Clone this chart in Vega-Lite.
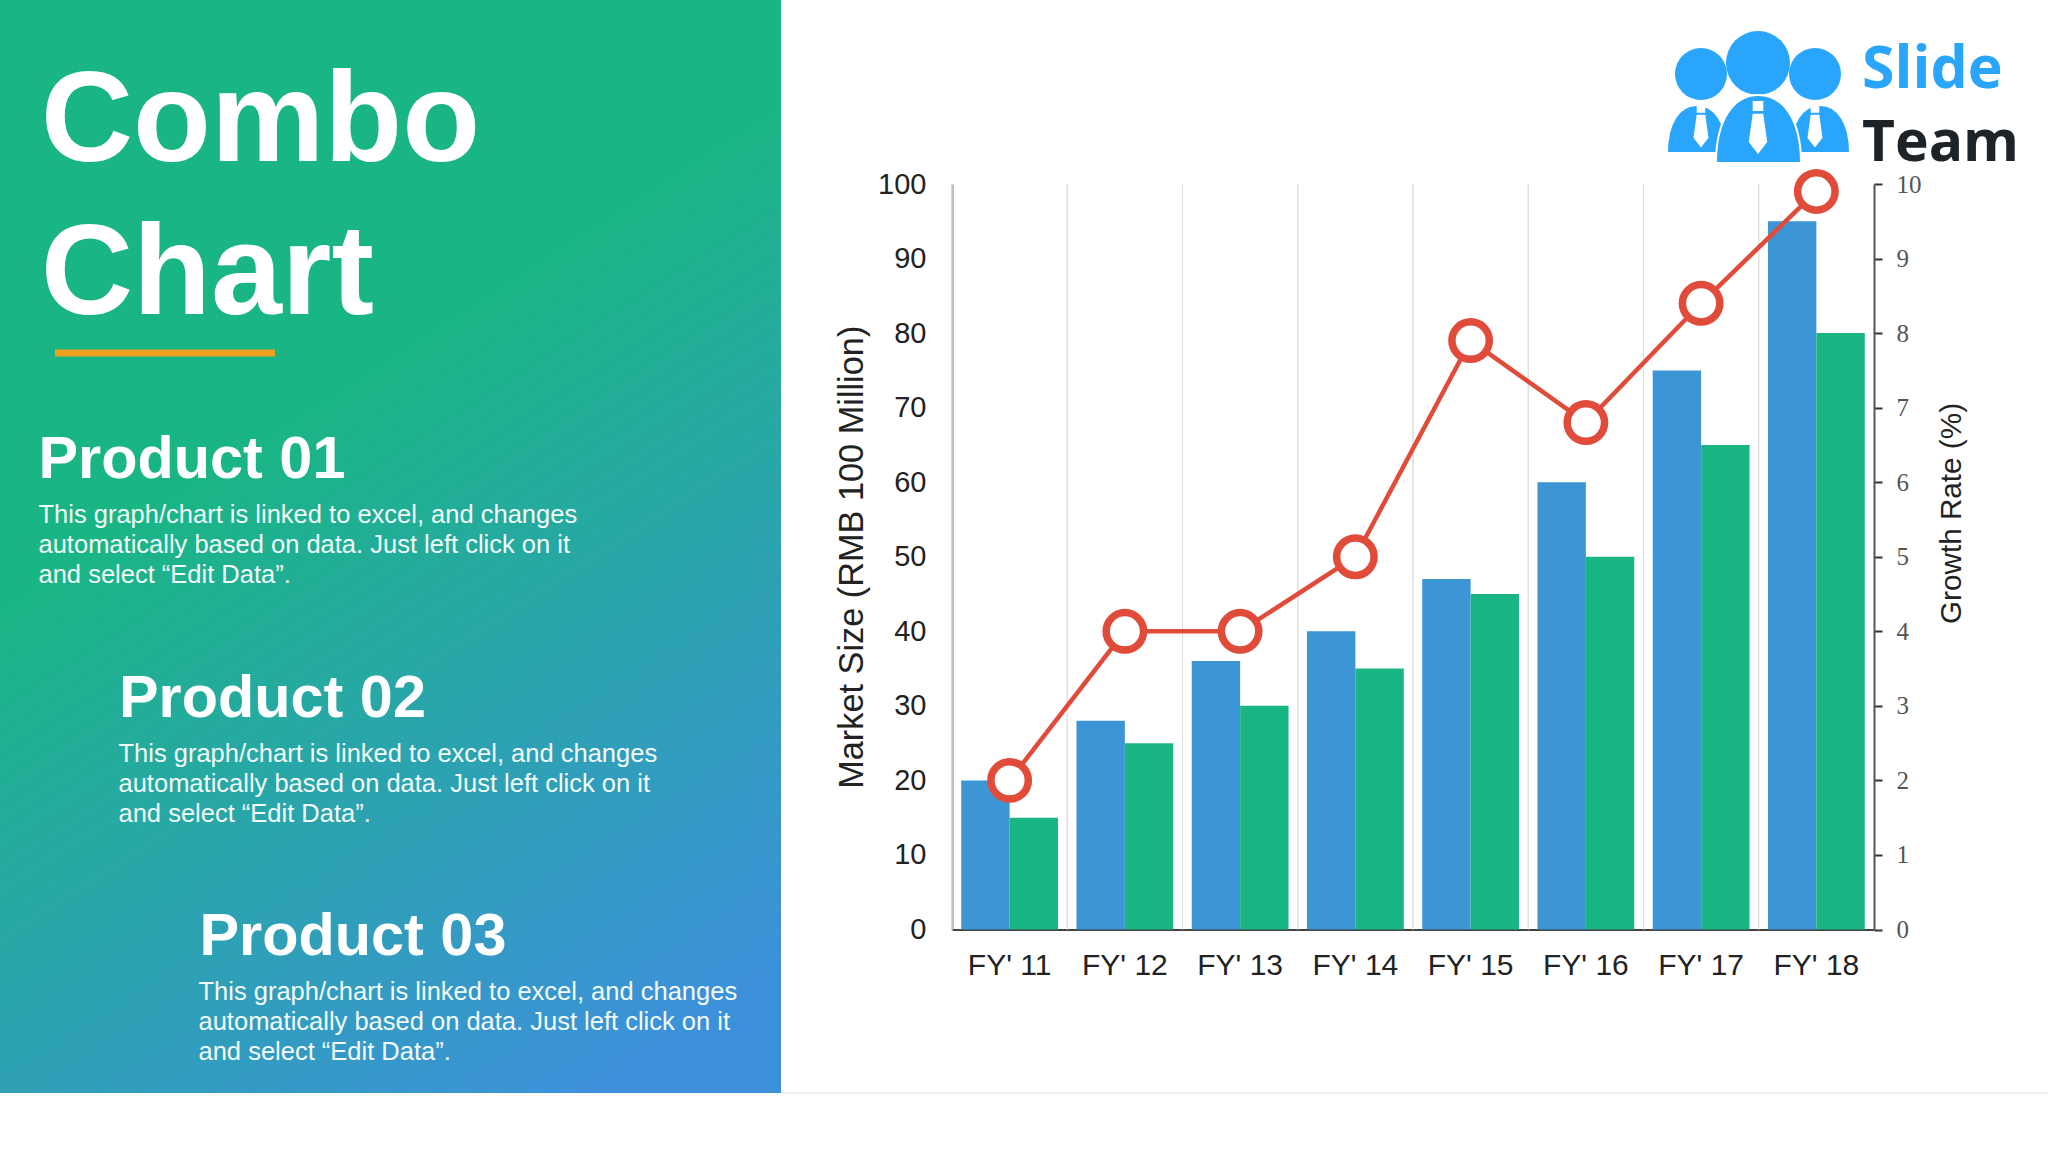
{
  "$schema": "https://vega.github.io/schema/vega-lite/v6.json",
  "description": "Combo chart slide: market size bars with growth rate line",
  "width": 2048,
  "height": 1152,
  "padding": 0,
  "autosize": {"type": "none"},
  "background": "#ffffff",
  "config": {"view": {"stroke": null}, "font": "Liberation Sans"},
  "datasets": {
    "market": [
      {"year": "FY' 11", "series": "Series 1", "size": 20},
      {"year": "FY' 11", "series": "Series 2", "size": 15},
      {"year": "FY' 12", "series": "Series 1", "size": 28},
      {"year": "FY' 12", "series": "Series 2", "size": 25},
      {"year": "FY' 13", "series": "Series 1", "size": 36},
      {"year": "FY' 13", "series": "Series 2", "size": 30},
      {"year": "FY' 14", "series": "Series 1", "size": 40},
      {"year": "FY' 14", "series": "Series 2", "size": 35},
      {"year": "FY' 15", "series": "Series 1", "size": 47},
      {"year": "FY' 15", "series": "Series 2", "size": 45},
      {"year": "FY' 16", "series": "Series 1", "size": 60},
      {"year": "FY' 16", "series": "Series 2", "size": 50},
      {"year": "FY' 17", "series": "Series 1", "size": 75},
      {"year": "FY' 17", "series": "Series 2", "size": 65},
      {"year": "FY' 18", "series": "Series 1", "size": 95},
      {"year": "FY' 18", "series": "Series 2", "size": 80}
    ],
    "growth": [
      {"year": "FY' 11", "rate": 2},
      {"year": "FY' 12", "rate": 4},
      {"year": "FY' 13", "rate": 4},
      {"year": "FY' 14", "rate": 5},
      {"year": "FY' 15", "rate": 7.9},
      {"year": "FY' 16", "rate": 6.8},
      {"year": "FY' 17", "rate": 8.4},
      {"year": "FY' 18", "rate": 9.9}
    ],
    "slide": [{"name": "slide"}],
    "titleWords": [{"word": "Combo"}, {"word": "Chart"}],
    "products": [
      {"block": "Product 01", "body": "This graph/chart is linked to excel, and changes\nautomatically based on data. Just left click on it\nand select “Edit Data”."},
      {"block": "Product 02", "body": "This graph/chart is linked to excel, and changes\nautomatically based on data. Just left click on it\nand select “Edit Data”."},
      {"block": "Product 03", "body": "This graph/chart is linked to excel, and changes\nautomatically based on data. Just left click on it\nand select “Edit Data”."}
    ],
    "people": [
      {"person": "left", "rank": "side"},
      {"person": "right", "rank": "side"},
      {"person": "centre", "rank": "lead"}
    ],
    "brand": [{"word": "Slide"}, {"word": "Team"}]
  },
  "layer": [
    {
      "data": {"name": "slide"},
      "mark": {
        "type": "rect",
        "color": {
          "gradient": "linear",
          "x1": 0.45, "y1": 0.35, "x2": 0.75, "y2": 1,
          "stops": [
            {"offset": 0, "color": "#1ab585"},
            {"offset": 1, "color": "#3d91da"}
          ]
        }
      },
      "encoding": {
        "x": {"datum": 0, "scale": {"domain": [0, 1], "range": [0, 781]}, "axis": null},
        "x2": {"datum": 1},
        "y": {"datum": 0, "scale": {"domain": [0, 1], "range": [0, 1093]}, "axis": null},
        "y2": {"datum": 1}
      }
    },
    {
      "data": {"name": "slide"},
      "mark": {"type": "rule", "color": "#dddddd", "strokeWidth": 1},
      "encoding": {
        "x": {"datum": 0, "scale": {"domain": [0, 1], "range": [781, 2048]}, "axis": null},
        "x2": {"datum": 1},
        "y": {"datum": 0, "scale": {"domain": [0, 1], "range": [1093, 1094]}, "axis": null}
      }
    },
    {
      "data": {"name": "slide"},
      "mark": {"type": "rule", "color": "#f0a020", "strokeWidth": 7},
      "encoding": {
        "x": {"datum": 0, "scale": {"domain": [0, 1], "range": [55, 275]}, "axis": null},
        "x2": {"datum": 1},
        "y": {"datum": 0, "scale": {"domain": [0, 1], "range": [353, 354]}, "axis": null}
      }
    },
    {
      "data": {"name": "titleWords"},
      "mark": {"type": "text", "align": "left", "baseline": "alphabetic", "font": "Liberation Sans", "fontWeight": "bold", "fontSize": 127.5, "color": "#ffffff"},
      "encoding": {
        "x": {"field": "word", "type": "nominal", "scale": {"type": "point", "domain": ["Combo", "Chart"], "range": [41, 41], "padding": 0}, "axis": null},
        "y": {"field": "word", "type": "nominal", "scale": {"type": "point", "domain": ["Combo", "Chart"], "range": [161, 314], "padding": 0}, "axis": null},
        "text": {"field": "word"}
      }
    },
    {
      "data": {"name": "products"},
      "mark": {"type": "text", "align": "left", "baseline": "alphabetic", "font": "Liberation Sans", "fontWeight": "bold", "fontSize": 59.4, "color": "#ffffff"},
      "encoding": {
        "x": {"field": "block", "type": "nominal", "scale": {"type": "point", "range": [38.5, 199.5], "padding": 0}, "axis": null},
        "y": {"field": "block", "type": "nominal", "scale": {"type": "point", "range": [478, 955], "padding": 0}, "axis": null},
        "text": {"field": "block"}
      }
    },
    {
      "data": {"name": "products"},
      "mark": {"type": "text", "align": "left", "baseline": "alphabetic", "font": "Liberation Sans", "fontSize": 25.5, "lineHeight": 30, "lineBreak": "\n", "color": "#f2fbf8"},
      "encoding": {
        "x": {"field": "block", "type": "nominal", "scale": {"type": "point", "range": [38.5, 198.5], "padding": 0}, "axis": null},
        "y": {"field": "block", "type": "nominal", "scale": {"type": "point", "range": [523, 1000], "padding": 0}, "axis": null},
        "text": {"field": "body"}
      }
    },
    {
      "data": {"name": "market"},
      "mark": {"type": "rule", "color": "#dedede", "strokeWidth": 1},
      "encoding": {
        "x": {"field": "year", "type": "nominal", "bandPosition": 0, "scale": {"type": "band", "paddingInner": 0, "paddingOuter": 0, "range": [952, 1874]}, "axis": null},
        "y": {"datum": 0, "scale": {"domain": [0, 100], "range": [929.5, 184]}, "axis": null},
        "y2": {"datum": 100}
      }
    },
    {
      "data": {"name": "market"},
      "mark": {"type": "bar"},
      "encoding": {
        "x": {
          "field": "year",
          "type": "nominal",
          "scale": {"type": "band", "paddingInner": 0.16, "paddingOuter": 0.08, "range": [952, 1874]},
          "axis": {
            "title": null,
            "orient": "bottom",
            "offset": -222.5,
            "ticks": false,
            "domainColor": "#444444",
            "domainWidth": 2,
            "labelAngle": 0,
            "labelFont": "Liberation Sans",
            "labelFontSize": 30,
            "labelColor": "#222222",
            "labelPadding": 21
          }
        },
        "xOffset": {"field": "series", "type": "nominal"},
        "y": {
          "field": "size",
          "type": "quantitative",
          "scale": {"domain": [0, 100], "range": [929.5, 184]},
          "axis": {
            "title": "Market Size (RMB 100 Million)",
            "orient": "left",
            "offset": -952,
            "values": [0, 10, 20, 30, 40, 50, 60, 70, 80, 90, 100],
            "grid": false,
            "ticks": false,
            "domainColor": "#777777",
            "domainWidth": 2,
            "labelFont": "Liberation Sans",
            "labelFontSize": 29,
            "labelColor": "#222222",
            "labelPadding": 26,
            "titleFont": "Liberation Sans",
            "titleFontSize": 34.3,
            "titleFontWeight": "normal",
            "titleColor": "#222222",
            "titlePadding": 8
          }
        },
        "color": {
          "field": "series",
          "type": "nominal",
          "scale": {"domain": ["Series 1", "Series 2"], "range": ["#3c96d6", "#1ab585"]},
          "legend": null
        }
      }
    },
    {
      "data": {"name": "growth"},
      "mark": {"type": "line", "color": "#e04b3a", "strokeWidth": 4.5},
      "encoding": {
        "x": {"field": "year", "type": "nominal", "scale": {"type": "band", "paddingInner": 0.16, "paddingOuter": 0.08, "range": [952, 1874]}, "axis": null},
        "y": {
          "field": "rate",
          "type": "quantitative",
          "scale": {"domain": [0, 10], "range": [929.5, 184]},
          "axis": {
            "title": "Growth Rate (%)",
            "orient": "right",
            "offset": -174,
            "values": [0, 1, 2, 3, 4, 5, 6, 7, 8, 9, 10],
            "grid": false,
            "ticks": true,
            "tickSize": 8,
            "tickColor": "#333333",
            "tickWidth": 2,
            "domainColor": "#555555",
            "domainWidth": 2,
            "labelFont": "Liberation Serif",
            "labelFontSize": 25,
            "labelColor": "#555555",
            "labelPadding": 14,
            "titleFont": "Liberation Sans",
            "titleFontSize": 29.7,
            "titleFontWeight": "normal",
            "titleColor": "#222222",
            "titleAngle": -90,
            "titleAlign": "center",
            "titleBaseline": "middle",
            "titleX": 77,
            "titleY": 513
          }
        }
      }
    },
    {
      "data": {"name": "growth"},
      "mark": {"type": "circle", "fill": "#ffffff", "stroke": "#e04b3a", "strokeWidth": 7.5, "size": 1400, "opacity": 1},
      "encoding": {
        "x": {"field": "year", "type": "nominal", "scale": {"type": "band", "paddingInner": 0.16, "paddingOuter": 0.08, "range": [952, 1874]}, "axis": null},
        "y": {"field": "rate", "type": "quantitative", "scale": {"domain": [0, 10], "range": [929.5, 184]}, "axis": null}
      }
    },
    {
      "data": {"name": "people"},
      "mark": {"type": "circle", "color": "#29a5fb", "opacity": 1},
      "encoding": {
        "x": {"field": "person", "type": "nominal", "scale": {"type": "point", "domain": ["left", "centre", "right"], "range": [1701, 1815], "padding": 0}, "axis": null},
        "y": {"field": "rank", "type": "nominal", "scale": {"type": "point", "domain": ["lead", "side"], "range": [63, 74], "padding": 0}, "axis": null},
        "size": {"field": "rank", "type": "nominal", "scale": {"domain": ["lead", "side"], "range": [4096, 2704]}, "legend": null}
      }
    },
    {
      "data": {"name": "people"},
      "mark": {
        "type": "point",
        "shape": "M-1,0.8 C-1,-0.2 -0.6,-0.8 0,-0.8 C0.6,-0.8 1,-0.2 1,0.8 Z",
        "filled": true,
        "fill": "#29a5fb",
        "stroke": "#ffffff",
        "strokeWidth": 2,
        "opacity": 1
      },
      "encoding": {
        "x": {"field": "person", "type": "nominal", "scale": {"type": "point", "domain": ["left", "centre", "right"], "range": [1697, 1820], "padding": 0}, "axis": null},
        "y": {"field": "rank", "type": "nominal", "scale": {"type": "point", "domain": ["lead", "side"], "range": [129, 129], "padding": 0}, "axis": null},
        "size": {"field": "rank", "type": "nominal", "scale": {"domain": ["lead", "side"], "range": [7225, 3600]}, "legend": null}
      }
    },
    {
      "data": {"name": "people"},
      "mark": {
        "type": "point",
        "shape": "M-0.2,-1 L0.2,-1 L0.2,-0.62 L-0.2,-0.62 Z M-0.2,-0.52 L0.2,-0.52 L0.35,0.55 L0,1 L-0.35,0.55 Z",
        "filled": true,
        "fill": "#ffffff",
        "opacity": 1
      },
      "encoding": {
        "x": {"field": "person", "type": "nominal", "scale": {"type": "point", "domain": ["left", "centre", "right"], "range": [1701, 1815], "padding": 0}, "axis": null},
        "y": {"field": "rank", "type": "nominal", "scale": {"type": "point", "domain": ["lead", "side"], "range": [127.5, 126], "padding": 0}, "axis": null},
        "size": {"field": "rank", "type": "nominal", "scale": {"domain": ["lead", "side"], "range": [2809, 1849]}, "legend": null}
      }
    },
    {
      "data": {"name": "brand"},
      "mark": {"type": "text", "align": "left", "baseline": "alphabetic", "font": "Open Sans", "fontWeight": "bold"},
      "encoding": {
        "x": {"field": "word", "type": "nominal", "scale": {"type": "point", "domain": ["Slide", "Team"], "range": [1862, 1862], "padding": 0}, "axis": null},
        "y": {"field": "word", "type": "nominal", "scale": {"type": "point", "domain": ["Slide", "Team"], "range": [88, 161], "padding": 0}, "axis": null},
        "text": {"field": "word"},
        "size": {"field": "word", "type": "nominal", "scale": {"domain": ["Slide", "Team"], "range": [59, 57]}, "legend": null},
        "color": {"field": "word", "type": "nominal", "scale": {"domain": ["Slide", "Team"], "range": ["#29a5fb", "#1e2328"]}, "legend": null}
      }
    }
  ],
  "resolve": {
    "scale": {"x": "independent", "y": "independent", "color": "independent", "size": "independent", "xOffset": "independent"},
    "axis": {"x": "independent", "y": "independent"}
  }
}
